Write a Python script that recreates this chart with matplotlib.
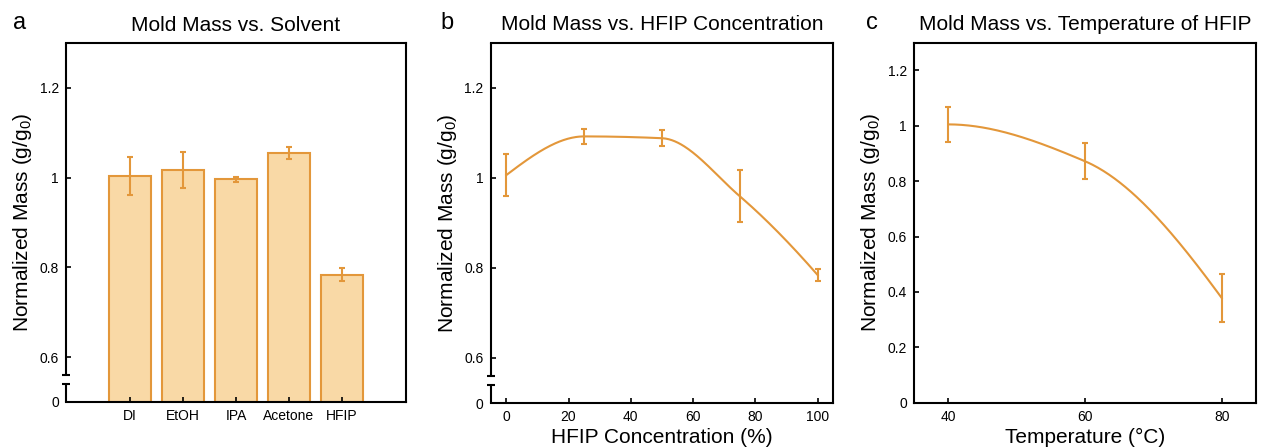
import numpy as np
import matplotlib
matplotlib.use('Agg')
import matplotlib.pyplot as plt

plt.rcParams['font.family'] = ['Liberation Sans', 'DejaVu Sans']
plt.rcParams['mathtext.fontset'] = 'custom'
plt.rcParams['mathtext.rm'] = 'Liberation Sans'
plt.rcParams['mathtext.it'] = 'Liberation Sans:italic'

# data
solvents = ['DI', 'EtOH', 'IPA', 'Acetone', 'HFIP']
solvent_mass = [1.004, 1.017, 0.996, 1.055, 0.784]
solvent_err = [0.042, 0.040, 0.005, 0.013, 0.014]

hfip_conc = [0, 25, 50, 75, 100]
conc_mass = [1.006, 1.092, 1.088, 0.959, 0.784]
conc_err = [0.046, 0.017, 0.018, 0.058, 0.014]

temps = [40, 60, 80]
temp_mass = [1.005, 0.872, 0.378]
temp_err = [0.064, 0.064, 0.088]

edge = '#E3973A'
fill = '#F9D9A6'
ylab = 'Normalized Mass (g/g$_0$)'


def pchip(x, y, xs):
    # monotone cubic hermite, used to draw the smoothed line
    x = np.asarray(x, float)
    y = np.asarray(y, float)
    h = np.diff(x)
    d = np.diff(y) / h
    n = len(x)
    m = np.zeros(n)
    for k in range(1, n - 1):
        if d[k - 1] * d[k] > 0:
            w1 = 2 * h[k] + h[k - 1]
            w2 = h[k] + 2 * h[k - 1]
            m[k] = (w1 + w2) / (w1 / d[k - 1] + w2 / d[k])
    for k, (a, b, ha, hb) in [(0, (d[0], d[1], h[0], h[1])),
                              (n - 1, (d[-1], d[-2], h[-1], h[-2]))]:
        s = ((2 * ha + hb) * a - ha * b) / (ha + hb)
        if np.sign(s) != np.sign(a):
            s = 0
        elif np.sign(a) != np.sign(b) and abs(s) > 3 * abs(a):
            s = 3 * a
        m[k] = s
    idx = np.clip(np.searchsorted(x, xs) - 1, 0, n - 2)
    t = (xs - x[idx]) / h[idx]
    h00 = 2 * t**3 - 3 * t**2 + 1
    h10 = t**3 - 2 * t**2 + t
    h01 = -2 * t**3 + 3 * t**2
    h11 = t**3 - t**2
    return (h00 * y[idx] + h10 * h[idx] * m[idx] + h01 * y[idx + 1]
            + h11 * h[idx] * m[idx + 1])


def style(ax):
    for s in ax.spines.values():
        s.set_linewidth(1.5)
    ax.tick_params(direction='in', length=3.5, width=1.2, labelsize=10, pad=5)


def broken_left(ax):
    # left spine drawn in two parts with a break between 0 and 0.6
    ax.spines['left'].set_visible(False)
    tr = ax.get_yaxis_transform()
    kw = dict(color='black', lw=1.5, transform=tr, clip_on=False,
              solid_capstyle='butt')
    ax.plot([0, 0], [0.5, 0.541], **kw)
    ax.plot([0, 0], [0.561, 1.3], **kw)
    ax.plot([-0.012, 0.012], [0.541, 0.541], **kw)
    ax.plot([-0.012, 0.012], [0.561, 0.561], **kw)


fig = plt.figure(figsize=(12.62, 4.48), dpi=100)
ax1 = fig.add_axes([0.0523, 0.1027, 0.2694, 0.8013])
ax2 = fig.add_axes([0.3888, 0.1004, 0.2715, 0.8042])
ax3 = fig.add_axes([0.7242, 0.1011, 0.2710, 0.8036])

# panel a
xpos = np.arange(1, len(solvents) + 1)
heights = np.array(solvent_mass) - 0.5
ax1.bar(xpos, heights, bottom=0.5, width=0.8, color=fill, edgecolor=edge,
        linewidth=1.5)
ax1.errorbar(xpos, solvent_mass, yerr=solvent_err, fmt='none', ecolor=edge,
             elinewidth=1.5, capsize=2.5, capthick=1.5)
ax1.set_xlim(-0.208, 6.208)
ax1.set_ylim(0.5, 1.3)
ax1.set_xticks(xpos)
ax1.set_xticklabels(solvents)
ax1.set_yticks([0.5, 0.6, 0.8, 1.0, 1.2])
ax1.set_yticklabels(['0', '0.6', '0.8', '1', '1.2'])
style(ax1)
broken_left(ax1)
ax1.set_ylabel(ylab, fontsize=15)
ax1.set_title('Mold Mass vs. Solvent', fontsize=15, pad=9)

# panel b
xs = np.linspace(0, 100, 300)
ax2.plot(xs, pchip(hfip_conc, conc_mass, xs), color=edge, lw=1.5)
ax2.errorbar(hfip_conc, conc_mass, yerr=conc_err, fmt='none', ecolor=edge,
             elinewidth=1.5, capsize=2.5, capthick=1.5)
ax2.set_xlim(-5, 105)
ax2.set_ylim(0.5, 1.3)
ax2.set_xticks([0, 20, 40, 60, 80, 100])
ax2.set_yticks([0.5, 0.6, 0.8, 1.0, 1.2])
ax2.set_yticklabels(['0', '0.6', '0.8', '1', '1.2'])
style(ax2)
broken_left(ax2)
ax2.set_ylabel(ylab, fontsize=15)
ax2.set_xlabel('HFIP Concentration (%)', fontsize=15, labelpad=3)
ax2.set_title('Mold Mass vs. HFIP Concentration', fontsize=15, pad=9)

# panel c
xt = np.linspace(40, 80, 200)
ax3.plot(xt, pchip(temps, temp_mass, xt), color=edge, lw=1.5)
ax3.errorbar(temps, temp_mass, yerr=temp_err, fmt='none', ecolor=edge,
             elinewidth=1.5, capsize=2.5, capthick=1.5)
ax3.set_xlim(35, 85)
ax3.set_ylim(0, 1.3)
ax3.set_xticks(temps)
ax3.set_yticks([0, 0.2, 0.4, 0.6, 0.8, 1.0, 1.2])
ax3.set_yticklabels(['0', '0.2', '0.4', '0.6', '0.8', '1', '1.2'])
style(ax3)
ax3.set_ylabel(ylab, fontsize=15)
ax3.set_xlabel('Temperature (\u00b0C)', fontsize=15, labelpad=3)
ax3.set_title('Mold Mass vs. Temperature of HFIP', fontsize=15, pad=9)

fig.text(0.010, 0.935, 'a', fontsize=17)
fig.text(0.349, 0.935, 'b', fontsize=17)
fig.text(0.686, 0.935, 'c', fontsize=17)

fig.savefig('out.png', dpi=100)
